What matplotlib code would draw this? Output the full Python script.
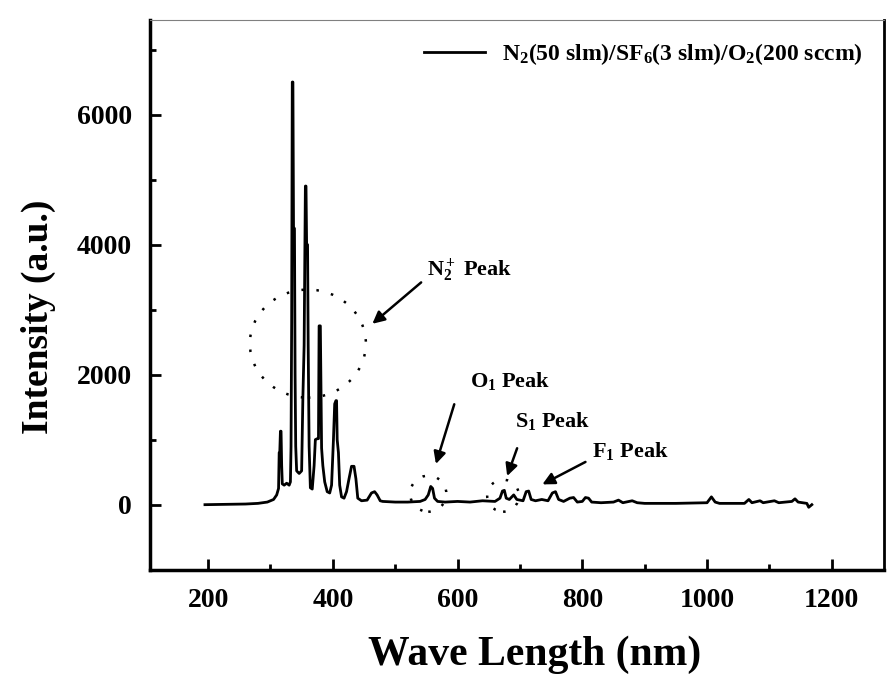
import numpy as np
import matplotlib.pyplot as plt
from matplotlib.patches import Ellipse

# spectrum (wavelength nm, intensity a.u.)
wl = [195, 230, 260, 280, 295, 305, 310, 313, 314, 315, 316, 317, 318, 319, 322, 326, 330,
      332, 333, 334, 335, 336, 337, 338.5, 339.5, 340.5, 342, 346, 350,
      352, 354, 356, 357, 358, 359.5, 360.5, 362, 364, 367,
      370, 372, 375, 377, 378, 380, 381, 382, 384, 387, 391, 395,
      398, 401, 403, 405, 406, 407, 409, 411, 414, 418,
      422, 426, 430, 434, 437, 440, 446, 455, 462, 467, 471, 476,
      480, 500, 520, 540, 548, 553, 557, 560, 563, 568, 580, 600, 620, 640, 660,
      668, 672, 675, 678, 683, 690, 695, 705, 710, 714, 718, 725, 735, 745,
      752, 757, 762, 770, 780, 786, 792, 800, 805, 810, 815, 830, 850, 858, 865,
      880, 888, 900, 950, 1000, 1007, 1013, 1020, 1060, 1067, 1072, 1085, 1090,
      1108, 1115, 1136, 1141, 1146, 1160, 1163, 1168]
inten = [0, 5, 10, 20, 40, 80, 150, 250, 800, 820, 1130, 1130, 600, 320, 300, 330, 300,
         350, 890, 2800, 6500, 6500, 4250, 4250, 2000, 900, 520, 480, 520,
         1650, 2450, 4900, 4900, 4000, 4000, 2450, 900, 260, 240,
         600, 1000, 1015, 1015, 2750, 2750, 1800, 870, 600, 350, 200, 180,
         300, 1000, 1550, 1600, 1600, 1000, 800, 300, 120, 100,
         200, 400, 590, 590, 400, 100, 60, 70, 180, 200, 150, 60,
         50, 40, 40, 50, 80, 150, 280, 250, 100, 50, 40, 50, 40, 60, 50,
         100, 210, 220, 100, 80, 150, 80, 60, 200, 210, 80, 60, 80, 60,
         180, 200, 80, 50, 100, 110, 40, 50, 110, 100, 40, 30, 40, 70, 30,
         60, 30, 20, 20, 30, 120, 40, 20, 20, 80, 30, 60, 30,
         60, 30, 50, 90, 40, 20, -40, 0]

legend_label = r'N$_2$(50 slm)/SF$_6$(3 slm)/O$_2$(200 sccm)'

plt.rcParams['font.family'] = 'Liberation Serif'
plt.rcParams['font.weight'] = 'bold'
plt.rcParams['axes.labelweight'] = 'bold'
plt.rcParams['mathtext.fontset'] = 'custom'
plt.rcParams['mathtext.rm'] = 'Liberation Serif:bold'
plt.rcParams['mathtext.it'] = 'Liberation Serif:bold'

fig = plt.figure(figsize=(8.88, 6.75), dpi=100)
ax = fig.add_axes([0.169, 0.156, 0.826, 0.814])

ax.plot(wl, inten, color='k', lw=2, label=legend_label)

ax.set_xlim(107, 1283)
ax.set_ylim(-1000, 7450)
ax.set_xticks([200, 400, 600, 800, 1000, 1200])
ax.set_xticks(np.arange(300, 1300, 200), minor=True)
ax.set_yticks([0, 2000, 4000, 6000])
ax.set_yticks([-1000, 1000, 3000, 5000, 7000], minor=True)
ax.tick_params(which='both', direction='in', top=False, right=False, width=2)
ax.tick_params(which='major', length=8, labelsize=20, pad=13)
ax.tick_params(which='minor', length=4)
for s in ['left', 'bottom']:
    ax.spines[s].set_linewidth(2.5)
ax.spines['right'].set_linewidth(2)
ax.spines['top'].set_linewidth(0.8)
ax.spines['top'].set_color('0.5')

ax.set_xlabel('Wave Length (nm)', fontsize=30)
ax.xaxis.set_label_coords(0.524, -0.12)
ax.set_ylabel('Intensity (a.u.)', fontsize=27)
ax.yaxis.set_label_coords(-0.128, 0.46)

leg = ax.legend(loc='upper right', frameon=False, fontsize=17, handlelength=2.6,
                handletextpad=0.7, bbox_to_anchor=(1.0, 1.0))

# dotted circles round the peaks
dots = dict(fill=False, ls=(0, (1, 5)), lw=1.8, color='k')
ax.add_patch(Ellipse((360, 2477), 186, 1662, **dots))
ax.add_patch(Ellipse((553, 169), 58, 554, **dots))
ax.add_patch(Ellipse((673, 138), 51, 492, **dots))

arr = dict(arrowstyle='-|>', lw=1.8, color='k', mutation_scale=18)
ax.annotate('', xy=(460, 2754), xytext=(545, 3446), arrowprops=arr)
ax.annotate('', xy=(564, 585), xytext=(596, 1585), arrowprops=arr)
ax.annotate('', xy=(678, 400), xytext=(697, 908), arrowprops=arr)
ax.annotate('', xy=(732, 292), xytext=(809, 677), arrowprops=arr)

ax.text(551, 3508, r'N$_2^+$ Peak', fontsize=16)
ax.text(620, 1815, r'O$_1$ Peak', fontsize=16)
ax.text(692, 1200, r'S$_1$ Peak', fontsize=16)
ax.text(815, 738, r'F$_1$ Peak', fontsize=16)

fig.savefig('out.png', dpi=100)
